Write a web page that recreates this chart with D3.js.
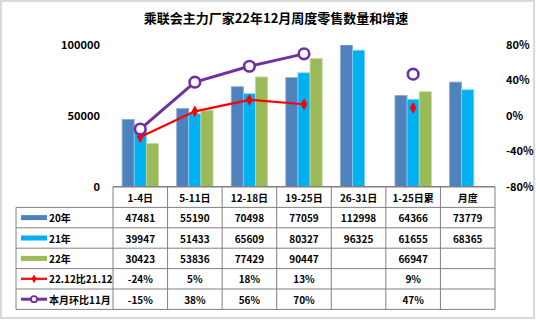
<!DOCTYPE html>
<html><head><meta charset="utf-8">
<script src="https://cdn.jsdelivr.net/npm/d3@7"></script>
<style>
body{margin:0;background:#fff;}
svg{display:block;font-family:"Noto Sans CJK SC","Noto Sans",sans-serif;}
</style></head>
<body><svg id="c" width="536" height="321"></svg>
<script>
const title = "乘联会主力厂家22年12月周度零售数量和增速";
const categories = ["1-4日","5-11日","12-18日","19-25日","26-31日","1-25日累","月度"];
const seriesNames = ["20年","21年","22年"];
const s20 = [47481,55190,70498,77059,112998,64366,73779];
const s21 = [39947,51433,65609,80327,96325,61655,68365];
const s22 = [30423,53836,77429,90447,null,66947,null];
const lineNames = ["22.12比21.12","本月环比11月"];
const yoy = [-0.24,0.05,0.18,0.13,null,0.09,null];
const mom = [-0.15,0.38,0.56,0.70,null,0.47,null];
const leftTicks = [0,50000,100000];
const rightTicks = [-0.8,-0.4,0,0.4,0.8];

const barColors = ["#4F81BD","#00B0F0","#9BBB59"];
const barStroke = ["#8eaed6","#7fd6f7","#c3d79e"];
const lineColors = ["#FF0000","#7030A0"];
const barSeries = [s20,s21,s22];

const svg = d3.select("#c");
const x0 = 113, x1 = 495, yTop = 45, yBot = 186.5;

// outer frame
svg.append("rect").attr("x",1).attr("y",1).attr("width",533).attr("height",317)
  .attr("fill","none").attr("stroke","#d9d9d9").attr("stroke-width",2);

svg.append("text").attr("x",276).attr("y",23).attr("text-anchor","middle")
  .attr("font-size",13).attr("font-weight","bold").attr("fill","#000").text(title);

const xCol = d3.scaleBand().domain(categories).range([x0,x1]);
const xBar = d3.scaleBand().domain(categories).range([x0,x1]).paddingInner(1/3).paddingOuter(1/6);
const xSub = d3.scaleBand().domain(seriesNames).range([0,xBar.bandwidth()]);
const yL = d3.scaleLinear().domain([0,100000]).range([yBot,yTop]);
const yR = d3.scaleLinear().domain([-0.8,0.8]).range([yBot,yTop]);

// clip
svg.append("clipPath").attr("id","plot").append("rect")
  .attr("x",x0).attr("y",yTop).attr("width",x1-x0).attr("height",yBot-yTop);

// bars
const gBars = svg.append("g").attr("clip-path","url(#plot)");
barSeries.forEach((arr,si)=>{
  gBars.selectAll(null).data(categories.map((c,i)=>({c,v:arr[i]})).filter(d=>d.v!=null))
    .enter().append("rect")
    .attr("x",d=>xBar(d.c)+xSub(seriesNames[si]))
    .attr("y",d=>yL(Math.min(d.v,100000)))
    .attr("width",xSub.bandwidth())
    .attr("height",d=>yBot-yL(Math.min(d.v,100000)))
    .attr("fill",barColors[si]).attr("stroke",barStroke[si]).attr("stroke-width",0.8);
});

// axes
const axL = svg.append("g").attr("transform",`translate(100,0)`)
  .call(d3.axisLeft(yL).tickValues(leftTicks).tickSize(0).tickPadding(0).tickFormat(d=>String(d)));
axL.select(".domain").remove();
axL.selectAll("text").attr("font-size",11).attr("font-weight","bold").attr("fill","#000")
  .attr("font-family","'Noto Sans CJK SC',sans-serif");

const axR = svg.append("g").attr("transform",`translate(506,0)`)
  .call(d3.axisRight(yR).tickValues(rightTicks).tickSize(0).tickPadding(0).tickFormat(d=>Math.round(d*100)+"%"));
axR.select(".domain").remove();
axR.selectAll("text").attr("font-size",11).attr("font-weight","bold").attr("fill","#000")
  .attr("font-family","'Noto Sans CJK SC',sans-serif");

// category axis line
svg.append("line").attr("x1",x0).attr("x2",x1).attr("y1",yBot).attr("y2",yBot)
  .attr("stroke","#808080").attr("stroke-width",1);

// lines
const cx = c => xCol(c)+xCol.bandwidth()/2;
const lineGen = d3.line().defined(d=>d.v!=null).x(d=>cx(d.c)).y(d=>yR(d.v));
const yoyD = categories.map((c,i)=>({c,v:yoy[i]}));
const momD = categories.map((c,i)=>({c,v:mom[i]}));

svg.append("path").datum(yoyD).attr("d",lineGen).attr("fill","none")
  .attr("stroke",lineColors[0]).attr("stroke-width",2.2).attr("stroke-linejoin","round");
svg.selectAll(null).data(yoyD.filter(d=>d.v!=null)).enter().append("path")
  .attr("d",d3.symbol(d3.symbolDiamond,40)())
  .attr("transform",d=>`translate(${cx(d.c)},${yR(d.v)})`).attr("fill",lineColors[0]);

svg.append("path").datum(momD).attr("d",lineGen).attr("fill","none")
  .attr("stroke",lineColors[1]).attr("stroke-width",3).attr("stroke-linejoin","round");
svg.selectAll(null).data(momD.filter(d=>d.v!=null)).enter().append("circle")
  .attr("cx",d=>cx(d.c)).attr("cy",d=>yR(d.v)).attr("r",5.3)
  .attr("fill","#fff").attr("stroke",lineColors[1]).attr("stroke-width",2.6);

// table
const tLeft = 16, hTop = 187, rowH = 20.4;
const tc = "#808080";
const gT = svg.append("g");
// header row
gT.append("line").attr("x1",x0).attr("x2",x1).attr("y1",hTop).attr("y2",hTop).attr("stroke",tc);
for(let r=1;r<=6;r++){
  gT.append("line").attr("x1",tLeft).attr("x2",x1).attr("y1",hTop+r*rowH).attr("y2",hTop+r*rowH).attr("stroke",tc);
}
gT.append("line").attr("x1",tLeft).attr("x2",tLeft).attr("y1",hTop+rowH).attr("y2",hTop+6*rowH).attr("stroke",tc);
[...categories.map(c=>xCol(c)), x1].forEach(xv=>{
  gT.append("line").attr("x1",xv).attr("x2",xv).attr("y1",hTop).attr("y2",hTop+6*rowH).attr("stroke",tc);
});
const txt = (x,y,s,anchor)=>gT.append("text").attr("x",x).attr("y",y).attr("text-anchor",anchor||"middle")
  .attr("dominant-baseline","central").attr("font-size",10).attr("font-weight","bold").attr("fill","#000").text(s);
categories.forEach(c=>txt(cx(c),hTop+rowH/2,c));
const pct = v=> v==null?"":Math.round(v*100)+"%";
const rows = [
  {name:seriesNames[0],vals:s20.map(v=>v==null?"":String(v)),type:"bar",color:barColors[0]},
  {name:seriesNames[1],vals:s21.map(v=>v==null?"":String(v)),type:"bar",color:barColors[1]},
  {name:seriesNames[2],vals:s22.map(v=>v==null?"":String(v)),type:"bar",color:barColors[2]},
  {name:lineNames[0],vals:yoy.map(pct),type:"diamond",color:lineColors[0]},
  {name:lineNames[1],vals:mom.map(pct),type:"circle",color:lineColors[1]}
];
rows.forEach((r,ri)=>{
  const yc = hTop+(ri+1.5)*rowH;
  r.vals.forEach((s,i)=>txt(cx(categories[i]),yc,s));
  if(r.type==="bar"){
    gT.append("rect").attr("x",21).attr("y",yc-2.5).attr("width",26).attr("height",5).attr("fill",r.color);
  } else {
    gT.append("line").attr("x1",21).attr("x2",47).attr("y1",yc).attr("y2",yc)
      .attr("stroke",r.color).attr("stroke-width",r.type==="circle"?3:2.2);
    if(r.type==="diamond"){
      gT.append("path").attr("d",d3.symbol(d3.symbolDiamond,22)()).attr("transform",`translate(34,${yc})`).attr("fill",r.color);
    } else {
      gT.append("circle").attr("cx",34).attr("cy",yc).attr("r",3).attr("fill","#fff").attr("stroke",r.color).attr("stroke-width",1.8);
    }
  }
  txt(49,yc,r.name,"start");
});
</script></body></html>
